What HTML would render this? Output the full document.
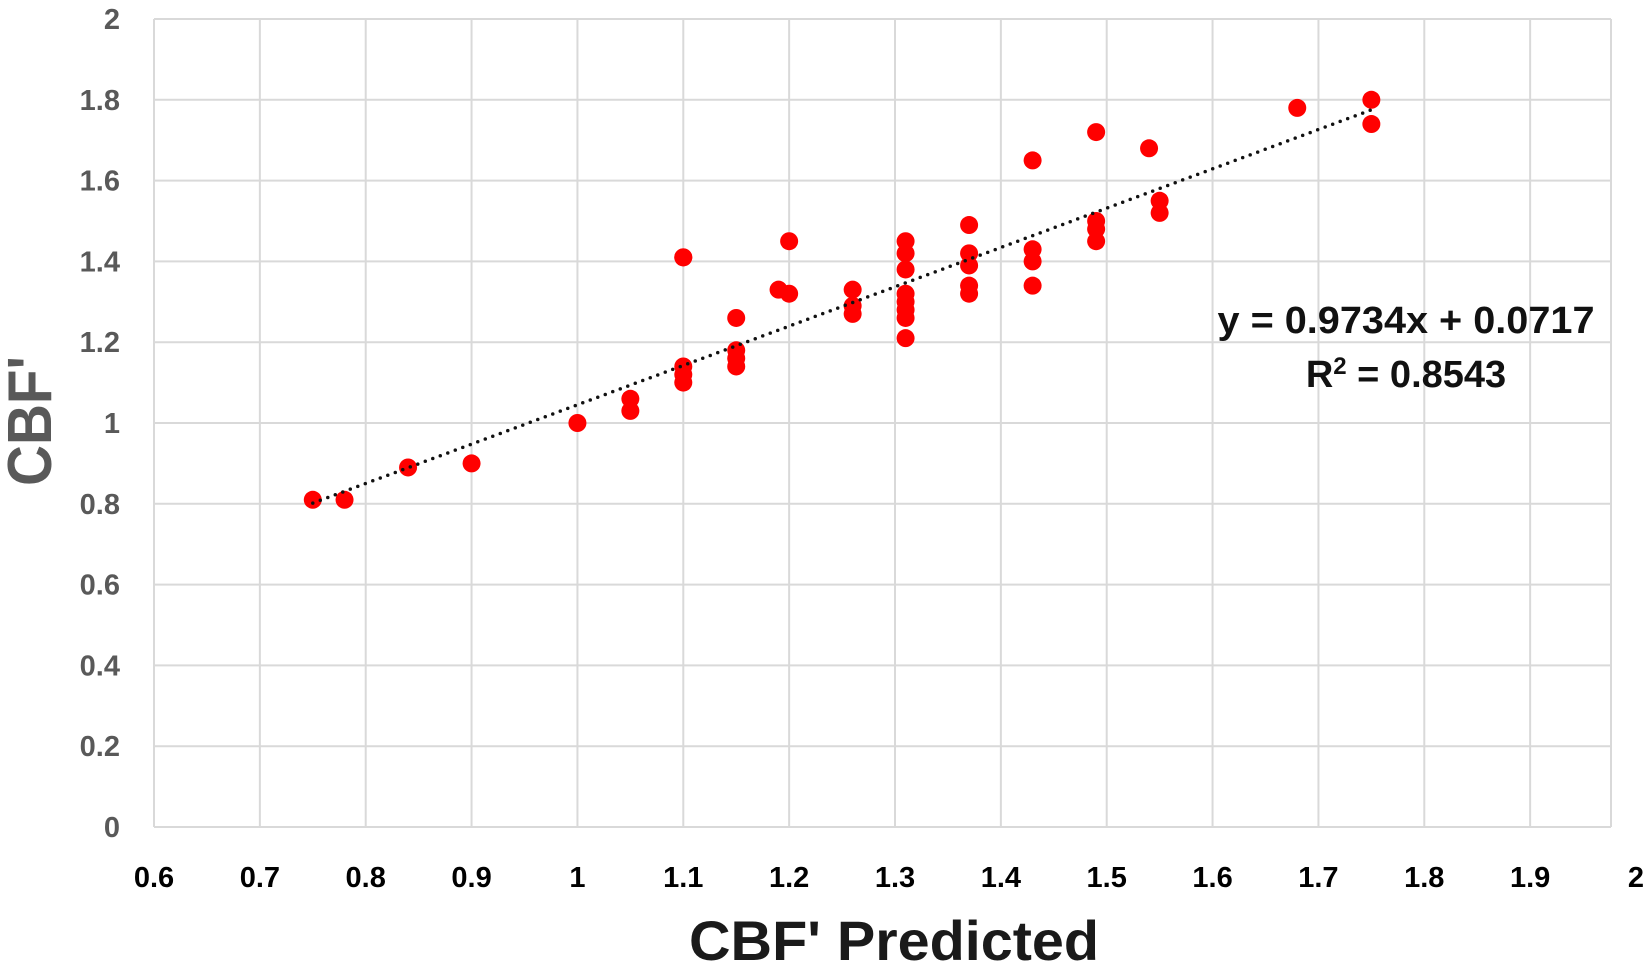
<!DOCTYPE html>
<html><head><meta charset="utf-8"><style>
body{margin:0;background:#fff;}
svg{display:block;font-family:"Liberation Sans",Arial,sans-serif;font-weight:bold;}
</style></head><body>
<svg id="chart" width="1650" height="969"></svg>
<script>
const xTicks=[0.6,0.7,0.8,0.9,1,1.1,1.2,1.3,1.4,1.5,1.6,1.7,1.8,1.9,2];
const xTickLabels=["0.6","0.7","0.8","0.9","1","1.1","1.2","1.3","1.4","1.5","1.6","1.7","1.8","1.9","2"];
const yTicks=[0,0.2,0.4,0.6,0.8,1,1.2,1.4,1.6,1.8,2];
const yTickLabels=["0","0.2","0.4","0.6","0.8","1","1.2","1.4","1.6","1.8","2"];
const xValues=[0.75,0.78,0.84,0.90,1.00,1.05,1.05,1.10,1.10,1.10,1.10,1.10,1.15,1.15,1.15,1.15,1.19,1.20,1.20,1.26,1.26,1.26,1.31,1.31,1.31,1.31,1.31,1.31,1.31,1.31,1.37,1.37,1.37,1.37,1.37,1.43,1.43,1.43,1.43,1.49,1.49,1.49,1.49,1.54,1.55,1.55,1.68,1.75,1.75];
const yValues=[0.81,0.81,0.89,0.90,1.00,1.06,1.03,1.41,1.41,1.14,1.12,1.10,1.26,1.18,1.16,1.14,1.33,1.32,1.45,1.33,1.29,1.27,1.45,1.42,1.38,1.32,1.30,1.28,1.26,1.21,1.49,1.42,1.39,1.34,1.32,1.65,1.43,1.40,1.34,1.72,1.50,1.48,1.45,1.68,1.55,1.52,1.78,1.80,1.74];
const trendSlope=0.9734, trendIntercept=0.0717, trendRange=[0.75,1.75];

const NS="http://www.w3.org/2000/svg";
const svg=document.getElementById('chart');
const L=154,R=1636,T=19,B=827,BORDER=1611;
const sx=v=>L+(v-0.6)/(2-0.6)*(R-L);
const sy=v=>B-(v/2)*(B-T);
function mk(tag,attrs,parent){const e=document.createElementNS(NS,tag);for(const k in attrs)e.setAttribute(k,attrs[k]);(parent||svg).appendChild(e);return e;}
const grid=mk('g',{});


xTicks.forEach(v=>{const gx=Math.min(sx(v),BORDER);const l=mk('line',{x1:gx,x2:gx,y1:T,y2:B,stroke:'#d9d9d9','stroke-width':2},grid);

});
yTicks.forEach(v=>{const l=mk('line',{x1:L,x2:BORDER,y1:sy(v),y2:sy(v),stroke:'#d9d9d9','stroke-width':2},grid);

});
const xl=mk('g',{});


xTicks.forEach((v,i)=>{const t=mk('text',{x:sx(v),y:887,'text-anchor':'middle','font-size':29,fill:'#000'},xl);t.textContent=xTickLabels[i];

});
const yl=mk('g',{});


yTicks.forEach((v,i)=>{const t=mk('text',{x:120,y:sy(v)+10,'text-anchor':'end','font-size':29,fill:'#595959'},yl);t.textContent=yTickLabels[i];

});
const pts=mk('g',{});


xValues.forEach((x,i)=>{const c=mk('circle',{cx:sx(x),cy:sy(yValues[i]),r:9,fill:'#ff0000'},pts);

});
const tl=mk('line',{x1:sx(trendRange[0]),y1:sy(trendSlope*trendRange[0]+trendIntercept),x2:sx(trendRange[1]),y2:sy(trendSlope*trendRange[1]+trendIntercept),stroke:'#111','stroke-width':3.5,'stroke-dasharray':'0 8','stroke-linecap':'round'});


const eq=mk('text',{x:1406,y:333,'text-anchor':'middle','font-size':38,fill:'#111',textLength:377,lengthAdjust:'spacingAndGlyphs'});
eq.textContent='y = 0.9734x + 0.0717';


const r2=mk('text',{x:1406,y:387,'text-anchor':'middle','font-size':38,fill:'#111'});
r2.innerHTML='R<tspan font-size="24" dy="-13">2</tspan><tspan dy="13"> = 0.8543</tspan>';


const xt=mk('text',{x:894,y:960,'text-anchor':'middle','font-size':56,fill:'#1a1a1a',textLength:410,lengthAdjust:'spacingAndGlyphs'});
xt.textContent="CBF' Predicted";


const yt=mk('text',{x:0,y:0,'text-anchor':'middle','font-size':62,fill:'#595959',textLength:130,lengthAdjust:'spacingAndGlyphs',transform:'translate(51,421) rotate(-90)'});
yt.textContent="CBF'";


</script>
</body></html>
